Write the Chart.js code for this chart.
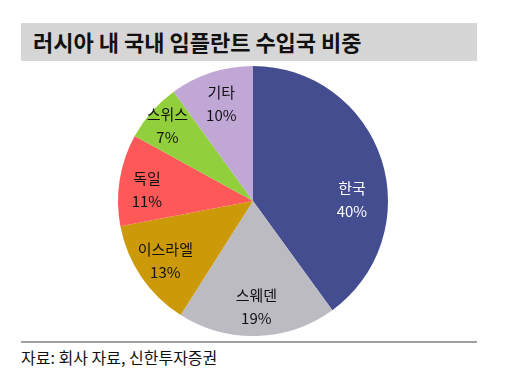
<!DOCTYPE html>
<html>
<head>
<meta charset="utf-8">
<script src="https://cdn.jsdelivr.net/npm/chart.js@4"></script>
<style>
  html, body { margin: 0; padding: 0; background: #fff; }
  body { width: 516px; height: 381px; position: relative; overflow: hidden; font-family: "Noto Sans CJK KR", "Noto Sans", sans-serif; }
  #title { position: absolute; left: 21px; top: 23px; width: 456px; height: 38px; background: #d6d6d6; }
  #title span { position: absolute; left: 12px; top: 5px; font-size: 22px; font-weight: bold; color: #111; line-height: 26px; }
  #wrap { position: absolute; left: 113px; top: 61px; width: 280px; height: 280px; }
  #rule { position: absolute; left: 21px; top: 341px; width: 456px; height: 2px; background: #a0a0a0; }
  #src { position: absolute; left: 21px; top: 346px; font-size: 16px; color: #111; line-height: 22px; }
</style>
</head>
<body>
<div id="title"><span>러시아 내 국내 임플란트 수입국 비중</span></div>
<div id="wrap"><canvas id="c" width="280" height="280"></canvas></div>
<div id="rule"></div>
<div id="src">자료: 회사 자료, 신한투자증권</div>
<script>
const categories = ["한국", "스웨덴", "이스라엘", "독일", "스위스", "기타"];
const shares = [40, 19, 13, 11, 7, 10];
const sliceColors = ["#434d8f", "#bdbbc2", "#cc9a08", "#fe5858", "#92cf3c", "#c1a7d6"];
const labelColors = ["#ffffff", "#111111", "#111111", "#111111", "#111111", "#111111"];

// label placement: fraction of radius and angular tweak (degrees)
const labelRadius = [0.733, 0.785, 0.785, 0.79, 0.845, 0.76];
const labelTurn = [17.4, 0, 0, -3, 0, 0];

const labelPlugin = {
  id: "sliceLabels",
  afterDatasetsDraw(chart) {
    const ctx = chart.ctx;
    const meta = chart.getDatasetMeta(0);
    ctx.save();
    ctx.font = '15px "Noto Sans CJK KR", sans-serif';
    ctx.textAlign = "center";
    ctx.textBaseline = "middle";
    meta.data.forEach((arc, i) => {
      const mid = (arc.startAngle + arc.endAngle) / 2 + labelTurn[i] * Math.PI / 180;
      const f = labelRadius[i];
      const x = arc.x + Math.cos(mid) * arc.outerRadius * f;
      const y = arc.y + Math.sin(mid) * arc.outerRadius * f;
      ctx.fillStyle = labelColors[i];
      ctx.fillText(categories[i], x, y - 11.5);
      ctx.fillText(shares[i] + "%", x, y + 11.5);
    });
    ctx.restore();
  }
};

new Chart(document.getElementById("c"), {
  type: "pie",
  data: {
    labels: categories,
    datasets: [{
      data: shares,
      backgroundColor: sliceColors,
      borderWidth: 0
    }]
  },
  options: {
    responsive: false,
    animation: false,
    layout: { padding: 5 },
    plugins: { legend: { display: false }, tooltip: { enabled: false } }
  },
  plugins: [labelPlugin]
});
</script>
</body>
</html>
